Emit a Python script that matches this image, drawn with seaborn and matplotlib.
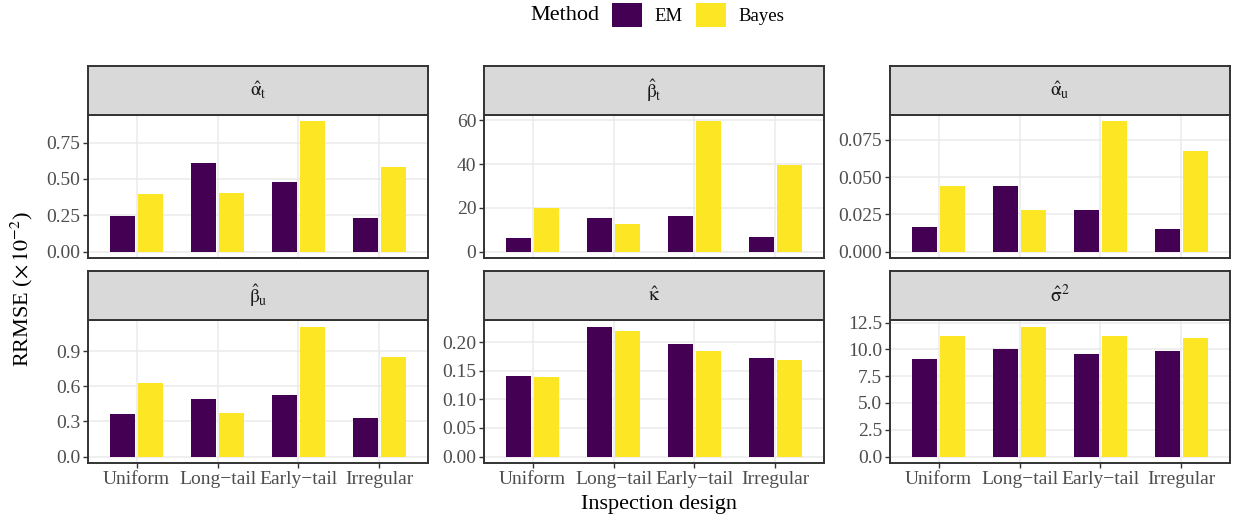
import matplotlib as mpl
import matplotlib.pyplot as plt
import seaborn as sns
import pandas as pd
from matplotlib.patches import Patch

mpl.use('Agg')

# data (RRMSE x 10^-2)
designs = ['Uniform', 'Long\u2212tail', 'Early\u2212tail', 'Irregular']
methods = ['EM', 'Bayes']
params = ['alpha_t', 'beta_t', 'alpha_u', 'beta_u', 'kappa', 'sigma2']
strip_labels = [r'$\hat{\mathrm{\alpha}}_\mathrm{t}$',
                r'$\hat{\mathrm{\beta}}_\mathrm{t}$',
                r'$\hat{\mathrm{\alpha}}_\mathrm{u}$',
                r'$\hat{\mathrm{\beta}}_\mathrm{u}$',
                r'$\hat{\mathrm{\kappa}}$',
                r'$\hat{\mathrm{\sigma}}^2$']

em_alpha_t = [0.242, 0.610, 0.481, 0.232]
bayes_alpha_t = [0.398, 0.405, 0.895, 0.584]
em_beta_t = [6.1, 15.2, 16.1, 6.5]
bayes_beta_t = [19.8, 12.6, 59.5, 39.4]
em_alpha_u = [0.0163, 0.0438, 0.0277, 0.0150]
bayes_alpha_u = [0.0438, 0.0277, 0.0873, 0.0672]
em_beta_u = [0.360, 0.489, 0.523, 0.334]
bayes_beta_u = [0.626, 0.369, 1.114, 0.849]
em_kappa = [0.1415, 0.2275, 0.1977, 0.1731]
bayes_kappa = [0.1398, 0.2205, 0.1854, 0.1696]
em_sigma2 = [9.12, 10.06, 9.59, 9.88]
bayes_sigma2 = [11.28, 12.13, 11.28, 11.09]

yticks = {
    'alpha_t': ['0.00', '0.25', '0.50', '0.75'],
    'beta_t': ['0', '20', '40', '60'],
    'alpha_u': ['0.000', '0.025', '0.050', '0.075'],
    'beta_u': ['0.0', '0.3', '0.6', '0.9'],
    'kappa': ['0.00', '0.05', '0.10', '0.15', '0.20'],
    'sigma2': ['0.0', '2.5', '5.0', '7.5', '10.0', '12.5'],
}

values = {
    'alpha_t': (em_alpha_t, bayes_alpha_t),
    'beta_t': (em_beta_t, bayes_beta_t),
    'alpha_u': (em_alpha_u, bayes_alpha_u),
    'beta_u': (em_beta_u, bayes_beta_u),
    'kappa': (em_kappa, bayes_kappa),
    'sigma2': (em_sigma2, bayes_sigma2),
}

rows = []
for p in params:
    for m, vals in zip(methods, values[p]):
        for d, v in zip(designs, vals):
            rows.append({'param': p, 'method': m, 'design': d, 'rrmse': v})
df = pd.DataFrame(rows)

colors = ['#440154', '#FDE725']
border = '#333333'
grid_col = '#EBEBEB'
tick_col = '#4D4D4D'

plt.rcParams['font.family'] = ['Liberation Serif', 'DejaVu Serif']
plt.rcParams['mathtext.fontset'] = 'stix'

W, H = 1237, 521
fig = plt.figure(figsize=(W / 100, H / 100), dpi=100)

col_x = [88, 484, 890]
panel_w = 340
strip_top = [66, 271]
strip_h = 49
panel_h = 143


def rect(x, top, w, h):
    return [x / W, 1 - (top + h) / H, w / W, h / H]


for i, p in enumerate(params):
    r, c = divmod(i, 3)
    ax = fig.add_axes(rect(col_x[c], strip_top[r] + strip_h, panel_w, panel_h))
    sub = df[df['param'] == p]
    sns.barplot(data=sub, x='design', y='rrmse', hue='method', order=designs,
                hue_order=methods, palette=colors, saturation=1, width=0.68,
                gap=0.1, linewidth=0, legend=False, ax=ax)
    ymax = sub['rrmse'].max()
    ax.set_ylim(-0.05 * ymax, 1.05 * ymax)
    ax.set_xlim(-0.6, 3.6)
    ticks = yticks[p]
    ax.set_yticks([float(t) for t in ticks])
    ax.set_yticklabels(ticks)
    ax.set_facecolor('white')
    ax.set_axisbelow(True)
    ax.grid(True, color=grid_col, linewidth=1.1)
    for s in ax.spines.values():
        s.set_color(border)
        s.set_linewidth(1.4)
    ax.tick_params(axis='both', colors=border, labelcolor=tick_col,
                   labelsize=14, length=3.5, width=1.0, pad=2)
    ax.set_xlabel('')
    ax.set_ylabel('')
    if r == 0:
        ax.tick_params(axis='x', bottom=False, labelbottom=False)

    sax = fig.add_axes(rect(col_x[c], strip_top[r], panel_w, strip_h))
    sax.set_facecolor('#D9D9D9')
    sax.set_xticks([])
    sax.set_yticks([])
    for s in sax.spines.values():
        s.set_color(border)
        s.set_linewidth(1.4)
    sax.text(0.5, 0.5, strip_labels[i], ha='center', va='center',
             fontsize=14, color='#1A1A1A', transform=sax.transAxes)

fig.text(659 / W, 1 - 505 / H, 'Inspection design', ha='center', va='center',
         fontsize=16)
fig.text(22 / W, 1 - 289 / H, r'RRMSE ($\times\,10^{-2}$)', ha='center',
         va='center', rotation=90, fontsize=16)

fig.text(565 / W, 1 - 15 / H, 'Method', ha='center', va='center', fontsize=16)
handles = [Patch(facecolor=colors[0]), Patch(facecolor=colors[1])]
fig.legend(handles=handles, labels=methods, loc='center left',
           bbox_to_anchor=(612 / W, 1 - 15 / H), ncol=2, frameon=False,
           fontsize=13.5, handlelength=1.6, handleheight=1.6,
           handletextpad=0.65, columnspacing=0.75, borderpad=0,
           borderaxespad=0)

fig.savefig('out.png', dpi=100)
